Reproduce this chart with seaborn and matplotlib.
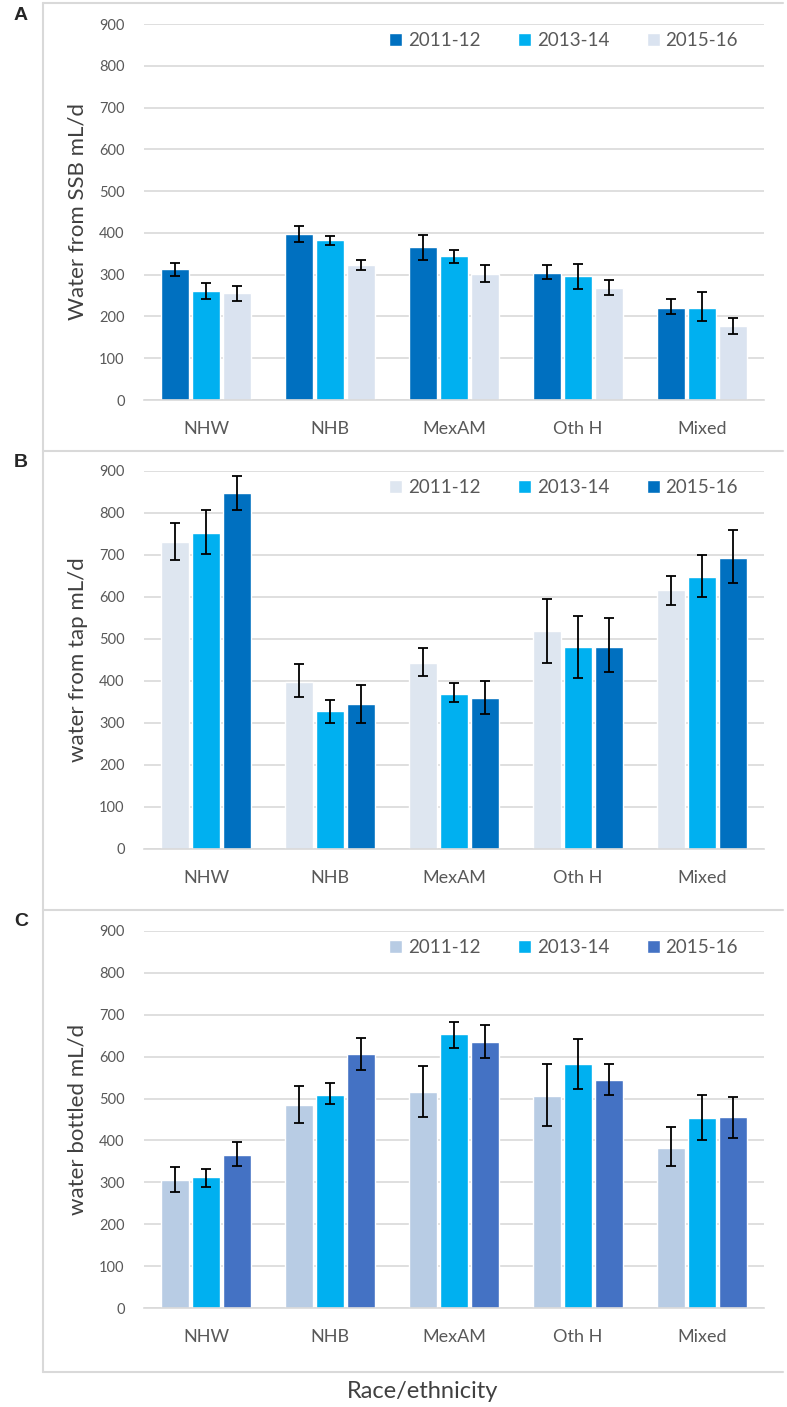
import seaborn as sns
import matplotlib.pyplot as plt
import pandas as pd
from matplotlib.lines import Line2D

sns.set_style("white")
plt.rcParams["font.family"] = ["Lato", "DejaVu Sans"]

categories = ["NHW", "NHB", "MexAM", "Oth H", "Mixed"]
periods = ["2011-12", "2013-14", "2015-16"]

# panel A: water from SSB (rows = periods)
ssb_mean = [[313, 397, 366, 305, 221], [261, 383, 345, 296, 221], [256, 324, 302, 267, 176]]
ssb_lo = [[297, 377, 335, 289, 205], [241, 370, 329, 266, 190], [237, 311, 283, 252, 157]]
ssb_hi = [[329, 417, 396, 323, 241], [281, 393, 358, 325, 259], [274, 336, 323, 287, 196]]

# panel B: water from tap
tap_mean = [[732, 398, 443, 518, 616], [753, 328, 370, 482, 647], [848, 346, 359, 482, 693]]
tap_lo = [[689, 362, 412, 443, 580], [703, 299, 349, 408, 601], [808, 300, 321, 422, 633]]
tap_hi = [[777, 440, 479, 595, 650], [808, 355, 396, 555, 701], [889, 391, 400, 549, 759]]

# panel C: bottled water
btl_mean = [[305, 485, 515, 505, 382], [312, 508, 653, 582, 453], [366, 607, 635, 544, 457]]
btl_lo = [[277, 441, 456, 435, 340], [290, 487, 620, 522, 400], [339, 568, 596, 508, 407]]
btl_hi = [[337, 529, 578, 582, 431], [332, 536, 683, 641, 508], [396, 645, 676, 582, 504]]

panels = [
    ("A", "Water from SSB mL/d", ssb_mean, ssb_lo, ssb_hi, ["#0070C0", "#00B0F0", "#DAE3F0"], 24, 400),
    ("B", "water from tap mL/d", tap_mean, tap_lo, tap_hi, ["#DEE6F0", "#00B0F0", "#0070C0"], 471, 849),
    ("C", "water bottled mL/d", btl_mean, btl_lo, btl_hi, ["#B8CCE4", "#00B0F0", "#4472C4"], 931, 1308),
]

W, H = 787, 1407
fig = plt.figure(figsize=(W / 100, H / 100), dpi=100)

grid_c = "#D9D9D9"
tick_c = "#595959"
lab_c = "#404040"

for letter, ylabel, mean, lo, hi, colors, top, bot in panels:
    ax = fig.add_axes([144 / W, (H - bot) / H, 620 / W, (bot - top) / H])
    df = pd.DataFrame({
        "cat": [c for p in periods for c in categories],
        "period": [p for p in periods for c in categories],
        "val": [v for row in mean for v in row],
    })
    sns.barplot(data=df, x="cat", y="val", hue="period", hue_order=periods,
                palette=colors, width=0.75, gap=0.07, errorbar=None,
                saturation=1, ax=ax)
    bar_conts = list(ax.containers)
    for i, cont in enumerate(bar_conts):
        xs = [b.get_x() + b.get_width() / 2 for b in cont]
        m = mean[i]
        yerr = [[m[j] - lo[i][j] for j in range(5)], [hi[i][j] - m[j] for j in range(5)]]
        ax.errorbar(xs, m, yerr=yerr, fmt="none", ecolor="black", elinewidth=1.3,
                    capsize=3.5, capthick=1.3, zorder=5)
    ax.set_ylim(0, 900)
    ax.set_xlim(-0.5, 4.5)
    ax.set_yticks(range(0, 901, 100))
    ax.yaxis.grid(True, color=grid_c, lw=1.2)
    ax.set_axisbelow(True)
    for s in ["top", "right", "left"]:
        ax.spines[s].set_visible(False)
    ax.spines["bottom"].set_color(grid_c)
    ax.spines["bottom"].set_linewidth(1.2)
    ax.tick_params(axis="y", length=0, pad=14, labelsize=10.5, labelcolor=tick_c)
    ax.tick_params(axis="x", length=0, pad=15, labelsize=13, labelcolor=tick_c)
    ax.set_xlabel("")
    ax.set_ylabel(ylabel, fontsize=16, color=lab_c, labelpad=8)
    sns.move_legend(ax, loc="center right", bbox_to_anchor=(0.985, 0.957), ncol=3,
                    frameon=False, title=None, fontsize=13.5, handlelength=0.7,
                    handleheight=0.7, handletextpad=0.3, columnspacing=2.0,
                    labelcolor=tick_c)
    fig.text(21 / W, 1 - (top - 9) / H, letter, fontsize=14, fontweight="bold",
             family=["Liberation Sans", "DejaVu Sans"], ha="center", va="center")

# light frame around the panels
def hline(y, x0=43, x1=783):
    fig.add_artist(Line2D([x0 / W, x1 / W], [1 - y / H, 1 - y / H], color=grid_c, lw=1.5))

for y in [3, 451, 910, 1372]:
    hline(y)
fig.add_artist(Line2D([43 / W, 43 / W], [1 - 3 / H, 1 - 1372 / H], color=grid_c, lw=1.5))

fig.text(423 / W, 1 - 1392 / H, "Race/ethnicity", fontsize=17, color=lab_c,
         ha="center", va="center")

plt.savefig("out.png", dpi=100)
plt.close(fig)
